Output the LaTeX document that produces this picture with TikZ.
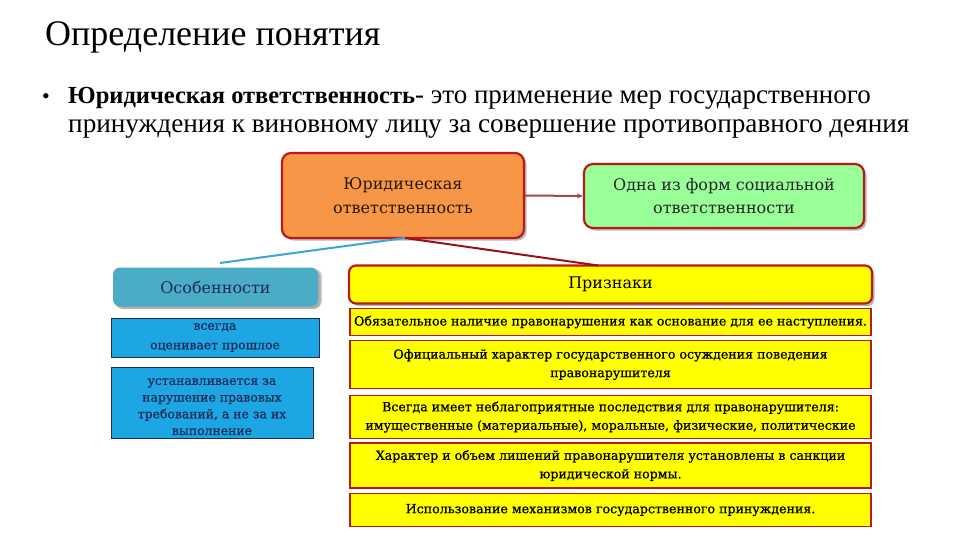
\documentclass[tikz,border=0pt]{standalone}
\usepackage{fontspec}
\setmainfont{Liberation Serif}
\newfontfamily\boxfont{DejaVu Serif}
\newfontfamily\boxfontheavy[FakeBold=0.8]{DejaVu Serif}
\usetikzlibrary{arrows.meta,shadows}
\definecolor{borderred}{RGB}{185,25,25}
\definecolor{darkred}{RGB}{150,20,20}
\definecolor{orangefill}{RGB}{247,150,70}
\definecolor{greenfill}{RGB}{153,255,153}
\definecolor{tealfill}{RGB}{75,172,198}
\definecolor{bluefill}{RGB}{28,166,228}
\definecolor{navy}{RGB}{30,45,90}
\definecolor{yellowfill}{RGB}{255,255,0}
\definecolor{linkblue}{RGB}{60,165,215}
\definecolor{arrowbrown}{RGB}{165,70,70}
\tikzset{
  rbox/.style={draw=borderred, line width=2.2pt, rounded corners=9pt, align=center, inner sep=0pt,
    drop shadow={shadow xshift=2.5pt, shadow yshift=-2.5pt, fill=black!28, opacity=1},
    font=\boxfont\fontsize{16}{23.5}\selectfont},
  ybox/.style={draw=borderred, line width=1.8pt, fill=yellowfill, align=center, inner sep=0pt,
    minimum width=521pt, font=\boxfontheavy\fontsize{12.6}{18.5}\selectfont},
  bbox/.style={draw=navy, line width=1pt, fill=bluefill, align=center, inner sep=0pt, text=navy,
    font=\boxfontheavy\fontsize{12.4}{16.7}\selectfont},
  link/.style={line width=2pt},
}
\begin{document}
\begin{tikzpicture}[x=1pt,y=-1pt]
\useasboundingbox[fill=white] (0,0) rectangle (960,540);
% title and definition
\node[anchor=base west, inner sep=0pt, font=\fontsize{36}{36}\selectfont] (title) at (45,46) {Определение понятия};
\node[anchor=base west, inner sep=0pt, font=\fontsize{22}{22}\selectfont] (bullet) at (42,104) {•};
\node[anchor=base west, inner sep=0pt, font=\fontsize{27}{27}\selectfont] (line1) at (68,104)
  {{\fontsize{24.5}{24.5}\selectfont\textbf{Юридическая ответственность}}- это применение мер государственного};
\node[anchor=base west, inner sep=0pt, font=\fontsize{27.2}{27.2}\selectfont] (line2) at (68,133)
  {принуждения к виновному лицу за совершение противоправного деяния};
% top boxes
\node[rbox, fill=orangefill, minimum width=242pt, minimum height=85pt, text=black!80!brown] (yur) at (403,195.5)
  {Юридическая\\ответственность};
\node[rbox, fill=greenfill, minimum width=280pt, minimum height=64pt, text=black!85] (soc) at (724,196)
  {Одна из форм социальной\\ответственности};
\draw[arrowbrown, line width=2pt, -{Stealth[length=6pt,width=5pt]}] (yur.east) -- (soc.west);
% features column
\node[rbox, draw=none, fill=tealfill, rounded corners=7pt, minimum width=205pt, minimum height=39pt, text=navy,
  drop shadow={shadow xshift=4pt, shadow yshift=-1.5pt, fill=black!35}] (osob) at (215.5,287) {Особенности};
\node[bbox, minimum width=208pt, minimum height=39pt, font=\boxfontheavy\fontsize{12.4}{19.5}\selectfont] (b1) at (215,337.5) {всегда\\оценивает прошлое};
\node[bbox, minimum width=202pt, minimum height=71pt] (b2) at (212,402.5)
  {\rule{0pt}{15pt}устанавливается за\\нарушение правовых\\требований, а не за их\\выполнение};
% signs column
\node[rbox, fill=yellowfill, rounded corners=7pt, minimum width=523pt, minimum height=38pt] (priz) at (610.5,284.5) {Признаки};
\node[ybox, minimum height=27pt] (y1) at (610.5,322)
  {Обязательное наличие правонарушения как основание для ее наступления.};
\node[ybox, minimum height=48pt] (y2) at (610.5,364.5)
  {Официальный характер государственного осуждения поведения\\правонарушителя};
\node[ybox, minimum height=43pt] (y3) at (610.5,417)
  {Всегда имеет неблагоприятные последствия для правонарушителя:\\имущественные (материальные), моральные, физические, политические};
\node[ybox, minimum height=45pt] (y4) at (610.5,465.5)
  {Характер и объем лишений правонарушителя установлены в санкции\\юридической нормы.};
\node[ybox, minimum height=33pt] (y5) at (610.5,510)
  {Использование механизмов государственного принуждения.};
% connectors from the main box
\coordinate (fork) at (405,238);
\coordinate (osobtop) at (220,263);
\coordinate (priztop) at (598,265.5);
\draw[link, linkblue] (fork) -- (osobtop);
\draw[link, darkred] (fork) -- (priztop);
\end{tikzpicture}
\end{document}
